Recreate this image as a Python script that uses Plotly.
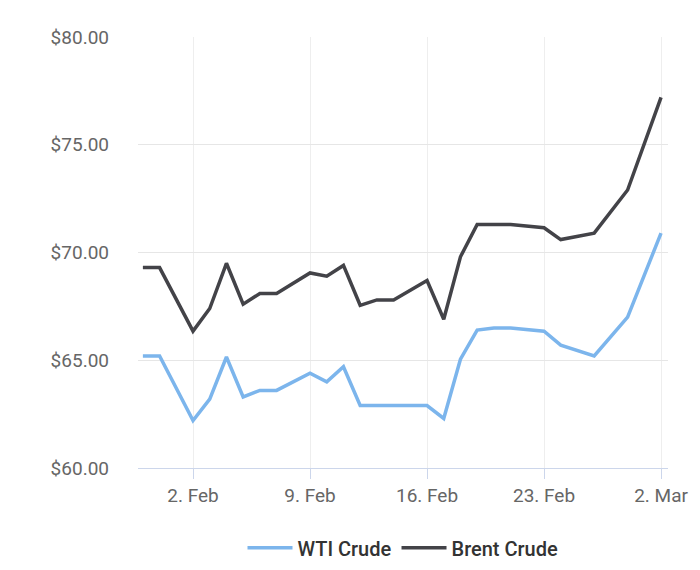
import plotly.graph_objects as go

dates = ["2026-01-30", "2026-01-31", "2026-02-02", "2026-02-03", "2026-02-04", "2026-02-05",
         "2026-02-06", "2026-02-07", "2026-02-09", "2026-02-10", "2026-02-11", "2026-02-12",
         "2026-02-13", "2026-02-14", "2026-02-16", "2026-02-17", "2026-02-18", "2026-02-19",
         "2026-02-20", "2026-02-21", "2026-02-23", "2026-02-24", "2026-02-26", "2026-02-28",
         "2026-03-02"]
wti = [65.2, 65.2, 62.2, 63.2, 65.15, 63.3, 63.6, 63.6, 64.4, 64.0, 64.7, 62.9,
       62.9, 62.9, 62.9, 62.3, 65.05, 66.4, 66.5, 66.5, 66.35, 65.7, 65.2, 67.0, 70.9]
brent = [69.3, 69.3, 66.35, 67.4, 69.5, 67.6, 68.1, 68.1, 69.05, 68.9, 69.4, 67.55,
         67.8, 67.8, 68.7, 66.9, 69.8, 71.3, 71.3, 71.3, 71.15, 70.6, 70.9, 72.9, 77.2]
tick_dates = ["2026-02-02", "2026-02-09", "2026-02-16", "2026-02-23", "2026-03-02"]
tick_labels = ["2. Feb", "9. Feb", "16. Feb", "23. Feb", "2. Mar"]

fig = go.Figure()
fig.add_trace(go.Scatter(x=dates, y=wti, name="WTI Crude", mode="lines",
                         line=dict(color="#7cb5ec", width=3.5)))
fig.add_trace(go.Scatter(x=dates, y=brent, name="Brent Crude", mode="lines",
                         line=dict(color="#434348", width=3.5)))

fig.update_layout(
    width=700, height=570,
    margin=dict(l=130, r=40, t=29, b=110, autoexpand=False),
    paper_bgcolor="white", plot_bgcolor="white",
    font=dict(family="Roboto", size=19, color="#666666"),
    showlegend=True,
    legend=dict(orientation="h", x=0.5, xanchor="center", y=-0.14, yanchor="top",
                font=dict(size=20, color="#333333", family="Roboto Medium, Roboto"),
                itemwidth=45),
    hovermode="x unified",
)
fig.update_xaxes(
    range=["2026-01-29 17:00", "2026-03-02 10:00"],
    tickvals=tick_dates, ticktext=tick_labels,
    showgrid=True, gridcolor="#eeeeee",
    showline=True, linecolor="#ccd6eb", linewidth=1,
    ticks="outside", tickcolor="#ccd6eb", ticklen=10,
)
fig.update_yaxes(
    range=[60, 80], tickvals=[60, 65, 70, 75, 80],
    ticktext=["$60.00", "$65.00", "$70.00", "$75.00", "$80.00"],
    showgrid=True, gridcolor="#e6e6e6", zeroline=False,
    ticklabelstandoff=28,
)

fig.write_html("out.html")
